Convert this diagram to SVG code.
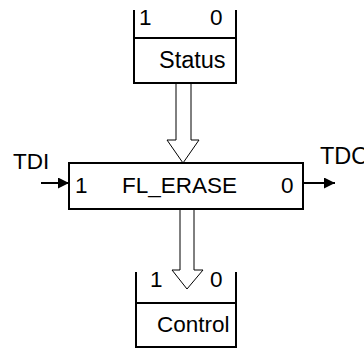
<svg xmlns="http://www.w3.org/2000/svg" width="364" height="351" viewBox="0 0 364 351">
<style>
text{font-family:"Liberation Sans",Arial,sans-serif;font-size:22.5px;fill:#000}
.big{font-size:23.5px}
.reg{fill:none;stroke:#000;stroke-width:2}
.hol{fill:#fff;stroke:#000;stroke-width:1}
.wire{stroke:#000;stroke-width:2;fill:none}
</style>
<defs>
<marker id="ah" markerWidth="12" markerHeight="12" refX="11" refY="5.5" orient="auto" markerUnits="userSpaceOnUse">
<path d="M0,0 L11,5.5 L0,11 Z" fill="#000"/>
</marker>
</defs>
<rect width="364" height="351" fill="#fff"/>
<g id="connectors">
<path class="hol" d="M176,83 V140 H167 L183,163 L199,140 H191 V83"/>
<path class="hol" d="M180,209 V270 H172 L187,289 L203,270 H194 V209"/>
<line class="wire" x1="41" y1="183" x2="69" y2="183" marker-end="url(#ah)"/>
<line class="wire" x1="303" y1="183" x2="335" y2="183" marker-end="url(#ah)"/>
</g>
<g id="status">
<path class="reg" d="M134,10 V83 H236 V10 M134,38 H236"/>
<text x="139" y="25">1</text>
<text x="210" y="25">0</text>
<text class="big" x="159" y="68">Status</text>
</g>
<g id="fl_erase">
<rect class="reg" x="69" y="163" width="234" height="46" fill="#fff"/>
<text x="75" y="193">1</text>
<text x="122" y="193">FL_ERASE</text>
<text x="281" y="193">0</text>
</g>
<g id="tdi"><text x="13" y="169">TDI</text></g>
<g id="tdo"><text class="big" x="320" y="164">TDO</text></g>
<g id="control">
<path class="reg" d="M136,272 V347 H236 V272 M136,303 H236"/>
<text x="150" y="287">1</text>
<text x="210" y="287">0</text>
<text x="157" y="332">Control</text>
</g>
</svg>
